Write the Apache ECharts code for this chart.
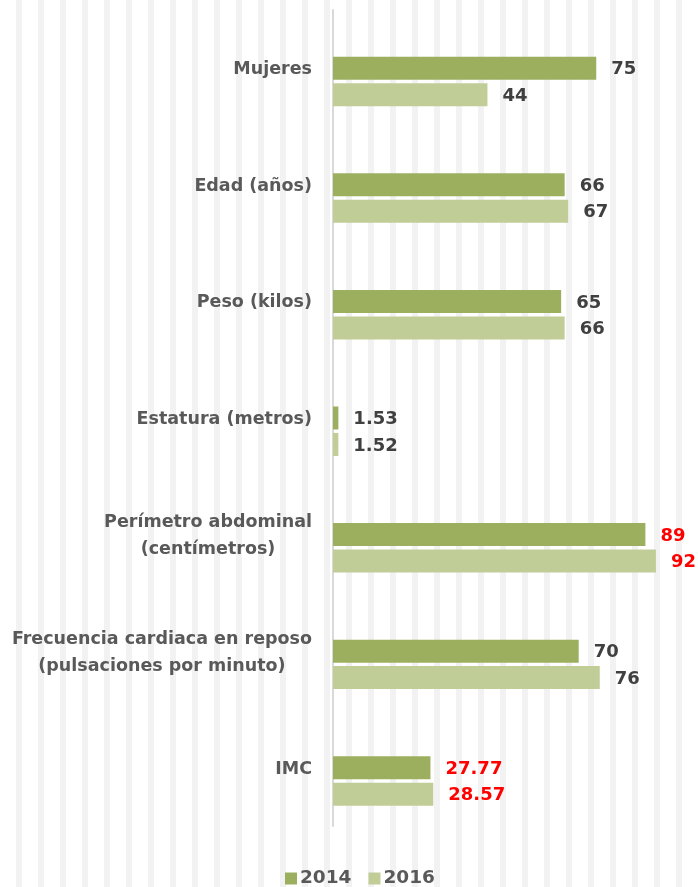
<!DOCTYPE html>
<html>
<head>
<meta charset="utf-8">
<script src="https://cdn.jsdelivr.net/npm/echarts@6/dist/echarts.min.js"></script>
<style>
html,body{margin:0;padding:0;}
#chart{width:698px;height:887px;background:repeating-linear-gradient(90deg,#ffffff 0px,#ffffff 16px,#f2f2f2 16px,#f2f2f2 22px);}
</style>
</head>
<body>
<div id="chart"></div>
<script>
const categories = ['Mujeres', 'Edad (años)', 'Peso (kilos)', 'Estatura (metros)', 'Perímetro abdominal\n(centímetros)', 'Frecuencia cardiaca en reposo\n(pulsaciones por minuto)', 'IMC'];
const labels2014 = ['75', '66', '65', '1.53', '89', '70', '27.77'];
const labels2016 = ['44', '67', '66', '1.52', '92', '76', '28.57'];
const values2014 = [75, 66, 65, 1.53, 89, 70, 27.77];
const values2016 = [44, 67, 66, 1.52, 92, 76, 28.57];
const spacer = [null, null, null, null, null, null, null];
const redRows = [4, 6];

const FONT = '"DejaVu Sans", sans-serif';
const chart = echarts.init(document.getElementById('chart'), null, {renderer: 'canvas'});

function labelFmt(arr) {
  return function (p) {
    const style = redRows.indexOf(p.dataIndex) >= 0 ? 'r' : 'n';
    return '{' + style + '|' + arr[p.dataIndex] + '}';
  };
}
const labelRich = {
  n: {color: '#404040', fontFamily: FONT, fontWeight: 'bold', fontSize: 18, padding: [3, 0, 0, 0]},
  r: {color: '#ff0000', fontFamily: FONT, fontWeight: 'bold', fontSize: 18, padding: [3, 0, 0, 0]}
};

chart.setOption({
  backgroundColor: 'transparent',
  animation: false,
  grid: {left: 333, right: 14, top: 10, bottom: 61, containLabel: false},
  legend: {
    data: ['2014', '2016'],
    top: 864,
    left: 280,
    itemWidth: 12,
    itemHeight: 12,
    itemGap: 17,
    icon: 'rect',
    textStyle: {color: '#595959', fontFamily: FONT, fontWeight: 'bold', fontSize: 18.5, padding: [0, 0, 0, -2]}
  },
  xAxis: {
    type: 'value', min: 0, max: 100, show: false
  },
  yAxis: {
    type: 'category',
    data: categories,
    inverse: true,
    axisLine: {show: true, lineStyle: {color: '#d9d9d9', width: 2}},
    axisTick: {show: false},
    splitLine: {show: false},
    axisLabel: {
      margin: 21,
      formatter: function (v) {
        return v.split('\n').map(function (s) { return '{c|' + s + '}'; }).join('\n');
      },
      rich: {
        c: {color: '#595959', fontFamily: FONT, fontWeight: 'bold', fontSize: 17.5, align: 'center', lineHeight: 27, padding: [3, 0, 0, 0]}
      }
    }
  },
  series: [
    {name: 'spacer', type: 'bar', data: spacer, barWidth: 23, barGap: '15%', silent: true},
    {
      name: '2014', type: 'bar', data: values2014, barWidth: 23, barGap: '15%',
      itemStyle: {color: '#9caf5f'},
      label: {show: true, position: 'right', distance: 15, formatter: labelFmt(labels2014), rich: labelRich}
    },
    {
      name: '2016', type: 'bar', data: values2016, barWidth: 23, barGap: '15%',
      itemStyle: {color: '#c0cd97'},
      label: {show: true, position: 'right', distance: 15, formatter: labelFmt(labels2016), rich: labelRich}
    }
  ]
});
</script>
</body>
</html>
